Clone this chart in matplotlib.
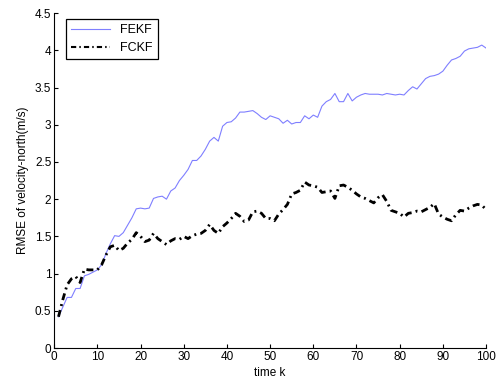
import numpy as np
import matplotlib
matplotlib.use("Agg")
import matplotlib.pyplot as plt

plt.rcParams['font.family'] = ['Liberation Sans', 'DejaVu Sans']

k = list(range(1, 101))

fekf = [0.42, 0.55, 0.68, 0.68, 0.80, 0.80, 0.97, 0.99, 1.02, 1.05,
        1.12, 1.27, 1.40, 1.51, 1.50, 1.55, 1.65, 1.75, 1.87, 1.88,
        1.87, 1.88, 2.01, 2.03, 2.04, 2.00, 2.11, 2.15, 2.25, 2.32,
        2.40, 2.52, 2.52, 2.58, 2.67, 2.78, 2.83, 2.78, 2.98, 3.03,
        3.04, 3.09, 3.17, 3.17, 3.18, 3.19, 3.15, 3.10, 3.07, 3.12,
        3.10, 3.08, 3.02, 3.06, 3.01, 3.03, 3.03, 3.12, 3.08, 3.13,
        3.10, 3.25, 3.31, 3.34, 3.42, 3.31, 3.31, 3.42, 3.32, 3.37,
        3.40, 3.42, 3.41, 3.41, 3.41, 3.40, 3.42, 3.41, 3.40, 3.41,
        3.40, 3.46, 3.51, 3.48, 3.55, 3.62, 3.65, 3.66, 3.68, 3.72,
        3.80, 3.87, 3.89, 3.92, 3.99, 4.02, 4.03, 4.04, 4.07, 4.03]

fckf = [0.42, 0.65, 0.85, 0.93, 0.96, 0.88, 1.06, 1.05, 1.05, 1.05,
        1.12, 1.25, 1.36, 1.38, 1.31, 1.34, 1.41, 1.46, 1.55, 1.50,
        1.43, 1.45, 1.54, 1.47, 1.43, 1.39, 1.44, 1.47, 1.46, 1.50,
        1.47, 1.51, 1.53, 1.54, 1.58, 1.66, 1.58, 1.54, 1.63, 1.68,
        1.74, 1.81, 1.77, 1.70, 1.72, 1.83, 1.84, 1.81, 1.74, 1.74,
        1.71, 1.80, 1.86, 1.93, 2.07, 2.09, 2.12, 2.23, 2.19, 2.18,
        2.16, 2.09, 2.10, 2.11, 2.01, 2.18, 2.19, 2.16, 2.12, 2.07,
        2.03, 2.01, 1.98, 1.95, 2.02, 2.06, 1.97, 1.85, 1.83, 1.81,
        1.76, 1.81, 1.82, 1.84, 1.83, 1.86, 1.89, 1.94, 1.80, 1.76,
        1.73, 1.71, 1.79, 1.85, 1.84, 1.88, 1.91, 1.93, 1.92, 1.86]

fig = plt.figure(figsize=(4.97, 3.85), dpi=100)
ax = fig.add_axes([0.109, 0.096, 0.869, 0.870])

ax.plot(k, fekf, color='#7f7fff', lw=0.8, label='FEKF')
ax.plot(k, fckf, color='black', lw=2, linestyle='-.', dashes=(2.5, 1.5, 0.7, 1.5),
        label='FCKF')

ax.set_xlim(0, 100)
ax.set_ylim(0, 4.5)
ax.set_xticks(np.arange(0, 101, 10))
ax.set_yticks(np.arange(0, 4.51, 0.5))
ax.set_yticklabels(['0', '0.5', '1', '1.5', '2', '2.5', '3', '3.5', '4', '4.5'])
ax.tick_params(direction='in', length=3, labelsize=8.5, width=0.8, pad=2)
ax.spines['top'].set_visible(False)
ax.spines['right'].set_visible(False)

ax.set_xlabel('time k', fontsize=8.5, labelpad=3)
ax.set_ylabel('RMSE of velocity-north(m/s)', fontsize=8.5, labelpad=4)

leg = ax.legend(loc='upper left', bbox_to_anchor=(0.028, 0.982), borderaxespad=0,
                fontsize=9, fancybox=False, edgecolor='black',
                handlelength=3.1, framealpha=1)
leg.get_frame().set_linewidth(0.9)
leg.get_lines()[1].set_linewidth(1.5)

fig.savefig('out.png', dpi=100)
